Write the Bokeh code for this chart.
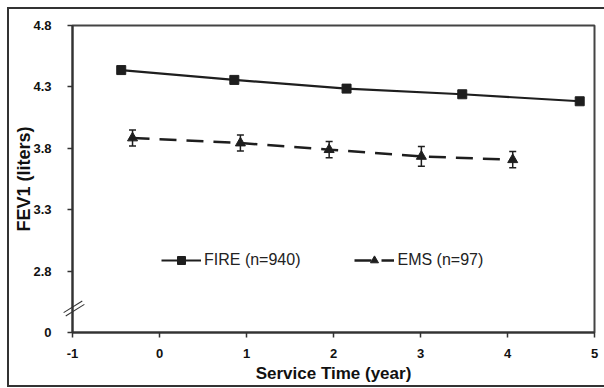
from bokeh.plotting import figure
from bokeh.models import (Range1d, FixedTicker, CustomJSTickFormatter, Whisker, ColumnDataSource,
                          Legend, LegendItem, TeeHead, InlineStyleSheet)
from bokeh.embed import file_html
from bokeh.resources import INLINE

# ---- data ----
fire_x = [-0.44, 0.86, 2.15, 3.48, 4.83]
fire_y = [4.437, 4.357, 4.286, 4.240, 4.183]
ems_x = [-0.31, 0.93, 1.95, 3.01, 4.06]
ems_y = [3.884, 3.843, 3.789, 3.734, 3.707]
ems_err = [0.066, 0.066, 0.066, 0.080, 0.066]
x_ticks = [-1, 0, 1, 2, 3, 4, 5]
y_ticks = [2.3, 2.8, 3.3, 3.8, 4.3, 4.8]
y_tick_labels = ["0", "2.8", "3.3", "3.8", "4.3", "4.8"]
fire_label = "FIRE (n=940)"
ems_label = "EMS (n=97)"

W, H = 604, 388
BL, BR, BT, BB = 72, 10, 25, 56
X0, X1 = -1, 5
Y0, Y1 = 2.3, 4.8

FONT = "Liberation Sans"
INK = "#1e1e1e"

p = figure(width=W, height=H, output_backend="svg", toolbar_location=None,
           x_range=Range1d(X0, X1), y_range=Range1d(Y0, Y1),
           min_border_left=BL, min_border_right=BR, min_border_top=BT, min_border_bottom=BB)
p.grid.visible = False
p.background_fill_color = "white"
p.border_fill_color = "white"
p.outline_line_color = "#444444"
p.outline_line_width = 2

for ax in (p.xaxis[0], p.yaxis[0]):
    ax.axis_line_color = "#333333"
    ax.axis_line_width = 2
    ax.major_tick_line_color = "#333333"
    ax.major_tick_line_width = 1.5
    ax.major_tick_out = 5
    ax.major_tick_in = 0
    ax.minor_tick_line_color = None
    ax.major_label_text_font = FONT
    ax.major_label_text_font_style = "bold"
    ax.major_label_text_font_size = "13px"
    ax.major_label_text_color = "#111111"
    ax.axis_label_text_font = FONT
    ax.axis_label_text_font_style = "bold"
    ax.axis_label_text_color = "#111111"

p.xaxis.ticker = FixedTicker(ticks=x_ticks)
p.xaxis.formatter = CustomJSTickFormatter(code="return String(Math.round(tick));")
p.xaxis.major_label_standoff = 11
p.xaxis.axis_label = "Service Time (year)"
p.xaxis.axis_label_text_font_size = "17px"
p.xaxis.axis_label_standoff = 3

p.yaxis.ticker = FixedTicker(ticks=y_ticks)
p.yaxis.formatter = CustomJSTickFormatter(args=dict(vals=y_ticks, labs=y_tick_labels), code="""
for (let i = 0; i < vals.length; i++) { if (Math.abs(vals[i] - tick) < 1e-6) return labs[i]; }
return tick.toFixed(1);
""")
p.yaxis.major_label_standoff = 16
p.yaxis.axis_label = "FEV1 (liters)"
p.yaxis.axis_label_text_font_size = "18px"
p.yaxis.axis_label_standoff = -4

# FIRE series
fr_line = p.line(fire_x, fire_y, line_color=INK, line_width=2.2)
fr_pts = p.scatter(fire_x, fire_y, marker="square", size=9, fill_color=INK, line_color=INK)

# EMS series
ems_src = ColumnDataSource(dict(x=ems_x, y=ems_y,
                                upper=[a + b for a, b in zip(ems_y, ems_err)],
                                lower=[a - b for a, b in zip(ems_y, ems_err)]))
em_line = p.line("x", "y", source=ems_src, line_color=INK, line_width=2.5, line_dash="17 10")
em_pts = p.scatter("x", "y", source=ems_src, marker="triangle", size=10, fill_color=INK, line_color=INK)
p.add_layout(Whisker(base="x", upper="upper", lower="lower", source=ems_src,
                     line_color=INK, line_width=1.5,
                     upper_head=TeeHead(size=7, line_color=INK, line_width=1.5),
                     lower_head=TeeHead(size=7, line_color=INK, line_width=1.5)))

legend = Legend(items=[LegendItem(label=fire_label, renderers=[fr_line, fr_pts]),
                       LegendItem(label=ems_label, renderers=[em_line, em_pts])],
                orientation="horizontal", location=(89, 62),
                glyph_width=40, glyph_height=20, label_standoff=3, spacing=54,
                padding=0, margin=0, border_line_color=None, background_fill_alpha=0,
                label_text_font=FONT, label_text_font_size="16px", label_text_color="#222222")
p.add_layout(legend)

# outer frame of the picture (open on the right, cut by the page edge) and the "//" axis-break mark
css = """
:host { overflow: hidden; }
:host::after {
  content: ""; position: absolute; left: 7px; top: 7px; width: 640px; height: 380px;
  box-sizing: border-box; border-top: 2px solid #333; border-left: 2px solid #333;
  border-bottom: 2px solid #333; pointer-events: none; z-index: 50;
}
:host::before {
  content: ""; position: absolute; left: 63px; top: 306px; width: 22px; height: 5px;
  box-sizing: border-box; border-top: 1.5px solid #333; border-bottom: 1.5px solid #333;
  transform: rotate(-32deg); pointer-events: none; z-index: 50;
}
"""
p.stylesheets = [InlineStyleSheet(css=css)]

open("out.html", "w").write(file_html(p, INLINE))
